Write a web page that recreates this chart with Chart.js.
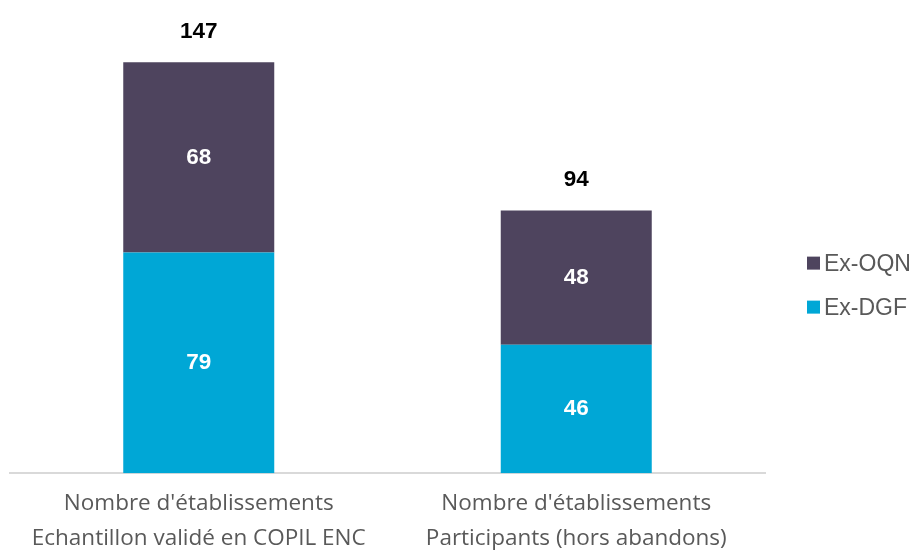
<!DOCTYPE html>
<html><head><meta charset="utf-8">
<script src="https://cdn.jsdelivr.net/npm/chart.js@4/dist/chart.umd.min.js"></script>
<style>html,body{margin:0;padding:0;background:#fff}#wrap{width:915px;height:551px}</style>
</head><body><div id="wrap"><canvas id="c"></canvas></div>
<script>
const categories = [
  ["Nombre d'établissements", "Echantillon validé en COPIL ENC"],
  ["Nombre d'établissements", "Participants (hors abandons)"]
];
const exDGF = [79, 46];
const exOQN = [68, 48];
const totals = exDGF.map((v, i) => v + exOQN[i]);
const legendOrder = [1, 0];

const labelPlugin = {
  id: 'labels',
  afterDatasetsDraw(chart) {
    const ctx = chart.ctx;
    ctx.save();
    ctx.textAlign = 'center';
    ctx.textBaseline = 'middle';
    ctx.font = 'bold 22.5px "Liberation Sans", Arial, sans-serif';
    chart.data.datasets.forEach((ds, di) => {
      const meta = chart.getDatasetMeta(di);
      meta.data.forEach((bar, i) => {
        const y = (bar.y + bar.base) / 2;
        ctx.fillStyle = '#ffffff';
        ctx.fillText(String(ds.data[i]), bar.x, y);
      });
    });
    const ys = chart.scales.y;
    const meta = chart.getDatasetMeta(1);
    ctx.fillStyle = '#000000';
    meta.data.forEach((bar, i) => {
      ctx.fillText(String(totals[i]), bar.x, ys.getPixelForValue(totals[i]) - 31);
    });
    // legend
    const area = chart.chartArea;
    const lx = area.right + 42;
    const cy = (area.top + area.bottom) / 2;
    ctx.textAlign = 'left';
    ctx.font = '23px "Liberation Sans", Arial, sans-serif';
    legendOrder.forEach((di, k) => {
      const ds = chart.data.datasets[di];
      const y = cy + 14 + k * 44;
      ctx.fillStyle = ds.backgroundColor;
      ctx.fillRect(lx, y - 7, 13, 13);
      ctx.fillStyle = '#595959';
      ctx.fillText(ds.label, lx + 17, y + 1);
    });
    ctx.restore();
  }
};

new Chart(document.getElementById('c'), {
  type: 'bar',
  data: {
    labels: categories,
    datasets: [
      { label: 'Ex-DGF', data: exDGF, backgroundColor: '#00A7D6', borderWidth: 0 },
      { label: 'Ex-OQN', data: exOQN, backgroundColor: '#4E445E', borderWidth: 0 }
    ]
  },
  options: {
    responsive: true,
    maintainAspectRatio: false,
    animation: false,
    layout: { padding: { top: 26, left: 10, right: 150, bottom: -10 } },
    datasets: { bar: { categoryPercentage: 0.8, barPercentage: 0.5 } },
    scales: {
      x: {
        stacked: true,
        grid: { display: false },
        border: { display: true, color: '#D9D9D9', width: 2 },
        ticks: { color: '#595959', font: { family: '"Open Sans", sans-serif', size: 22.5, lineHeight: 1.55 }, padding: 5, maxRotation: 0 }
      },
      y: {
        stacked: true, display: false, min: 0, max: 160
      }
    },
    plugins: {
      legend: { display: false },
      tooltip: { enabled: false }
    }
  },
  plugins: [labelPlugin]
});
</script></body></html>
